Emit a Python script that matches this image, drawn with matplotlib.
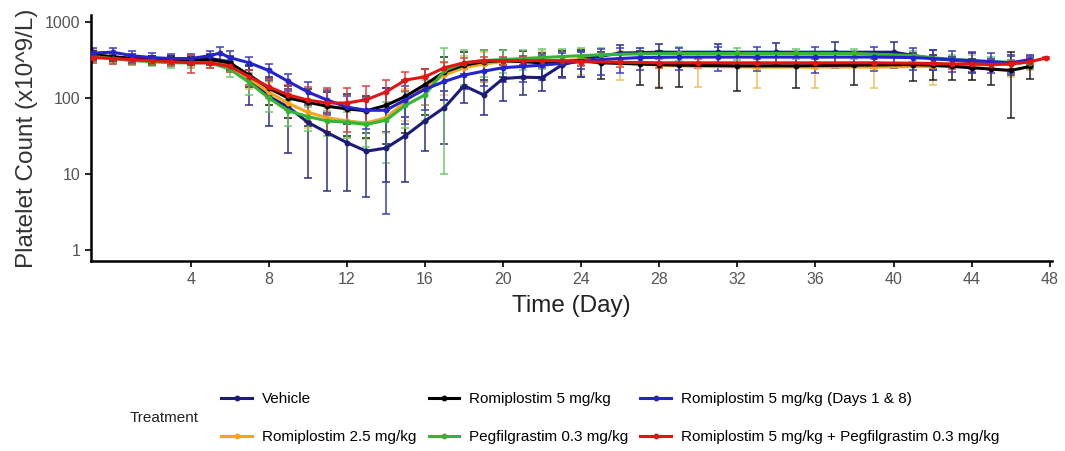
import numpy as np
import matplotlib
matplotlib.use('Agg')
import matplotlib.pyplot as plt

plt.rcParams['font.family'] = ['Liberation Sans', 'DejaVu Sans']

# group data: day, mean platelet count, SD (x10^9/L)
vehicle_days = [-1, 0, 1, 2, 3, 4, 5, 6, 7, 8, 9, 10, 11, 12, 13, 14, 15, 16, 17, 18, 19, 20, 21, 22, 23, 24, 26, 28, 31, 34, 37, 40, 42, 44, 46, 47]
vehicle_mean = [360, 345, 330, 320, 315, 320, 330, 300, 175, 105, 76, 48, 35, 26, 20, 22, 32, 50, 75, 145, 110, 180, 188, 185, 270, 320, 390, 400, 400, 400, 400, 400, 330, 300, 280, 300]
vehicle_sd = [60, 50, 50, 40, 40, 40, 50, 60, 95, 62, 57, 39, 29, 20, 15, 14, 24, 30, 50, 60, 50, 90, 80, 60, 80, 80, 100, 120, 120, 130, 150, 150, 100, 90, 80, 60]

rom5_days = [-1, 0, 1, 2, 3, 4, 5, 6, 7, 8, 9, 10, 11, 12, 13, 14, 15, 16, 17, 18, 19, 20, 21, 22, 23, 24, 25, 27, 28, 29, 32, 35, 38, 41, 42, 43, 44, 45, 46, 47]
rom5_mean = [370, 350, 330, 320, 320, 310, 320, 290, 200, 135, 100, 88, 78, 72, 68, 80, 105, 150, 220, 270, 300, 310, 300, 290, 300, 310, 290, 280, 275, 270, 265, 265, 270, 275, 270, 260, 250, 240, 230, 260]
rom5_sd = [50, 45, 40, 40, 40, 40, 45, 60, 60, 55, 45, 45, 42, 40, 38, 55, 70, 90, 125, 130, 130, 120, 110, 100, 110, 120, 110, 130, 140, 130, 140, 130, 120, 110, 100, 90, 80, 90, 175, 80]

days18_days = [-1, 0, 1, 2, 3, 4, 5, 5.5, 6, 7, 8, 9, 10, 11, 12, 13, 14, 15, 16, 17, 18, 19, 20, 21, 22, 23, 24, 25, 26, 27, 29, 31, 33, 36, 39, 41, 42, 43, 44, 45, 46, 47]
days18_mean = [390, 400, 360, 340, 330, 330, 360, 390, 340, 290, 230, 165, 120, 94, 76, 69, 69, 95, 130, 165, 200, 225, 250, 260, 270, 285, 300, 320, 330, 340, 345, 345, 345, 345, 345, 340, 330, 320, 310, 300, 290, 320]
days18_sd = [60, 60, 60, 50, 50, 50, 60, 80, 70, 60, 50, 40, 40, 35, 30, 30, 66, 50, 60, 70, 70, 80, 90, 100, 100, 100, 110, 120, 120, 110, 110, 120, 120, 130, 120, 110, 100, 100, 90, 90, 80, 50]

rom25_days = [-1, 0, 1, 2, 3, 4, 5, 6, 7, 8, 9, 10, 11, 12, 13, 14, 15, 16, 17, 18, 19, 20, 21, 22, 23, 24, 26, 28, 30, 33, 36, 39, 42, 44, 46, 47]
rom25_mean = [380, 340, 320, 310, 300, 300, 300, 270, 180, 120, 85, 65, 55, 50, 47, 55, 90, 140, 200, 250, 280, 300, 300, 300, 310, 320, 290, 270, 260, 255, 255, 255, 260, 270, 280, 300]
rom25_sd = [60, 50, 50, 40, 40, 40, 50, 50, 50, 40, 30, 25, 20, 20, 18, 20, 40, 60, 90, 110, 120, 130, 120, 110, 120, 120, 120, 130, 120, 120, 120, 120, 110, 100, 90, 70]

peg_days = [-1, 0, 1, 2, 3, 4, 5, 6, 7, 8, 9, 10, 11, 12, 13, 14, 15, 16, 17, 18, 19, 20, 21, 22, 23, 24, 25, 27, 29, 32, 35, 38, 41, 43, 45, 47]
peg_mean = [350, 330, 310, 300, 290, 290, 290, 240, 160, 100, 68, 57, 50, 48, 45, 51, 80, 110, 230, 290, 310, 320, 330, 340, 350, 360, 370, 380, 385, 385, 385, 385, 360, 320, 300, 290]
peg_sd = [50, 50, 40, 40, 40, 40, 40, 50, 50, 35, 25, 20, 18, 18, 22, 37, 40, 60, 220, 140, 120, 110, 100, 100, 90, 90, 90, 80, 80, 70, 60, 60, 60, 50, 50, 40]

combo_days = [-1, 0, 1, 2, 3, 4, 5, 6, 7, 8, 9, 10, 11, 12, 13, 14, 15, 16, 17, 18, 19, 20, 21, 22, 23, 24, 26, 28, 30, 33, 36, 39, 42, 43, 44, 45, 46, 47, 47.8]
combo_mean = [340, 330, 320, 310, 300, 290, 290, 260, 190, 140, 110, 94, 86, 86, 95, 120, 172, 190, 250, 290, 310, 310, 310, 310, 310, 300, 295, 290, 290, 290, 290, 290, 285, 280, 280, 275, 280, 300, 335]
combo_sd = [50, 50, 40, 40, 40, 80, 40, 40, 40, 40, 40, 45, 50, 50, 50, 50, 50, 50, 50, 50, 40, 40, 40, 40, 40, 40, 40, 40, 40, 40, 40, 40, 40, 40, 40, 40, 40, 40, 10]

groups = [
    ('Vehicle', vehicle_days, vehicle_mean, vehicle_sd, '#1c1c78', '#2a2a80'),
    ('Romiplostim 2.5 mg/kg', rom25_days, rom25_mean, rom25_sd, '#f5a41c', '#e8c25c'),
    ('Romiplostim 5 mg/kg', rom5_days, rom5_mean, rom5_sd, '#000000', '#202020'),
    ('Pegfilgrastim 0.3 mg/kg', peg_days, peg_mean, peg_sd, '#35b535', '#6cc86c'),
    ('Romiplostim 5 mg/kg (Days 1 & 8)', days18_days, days18_mean, days18_sd, '#2424cc', '#3b3bc0'),
    ('Romiplostim 5 mg/kg + Pegfilgrastim 0.3 mg/kg', combo_days, combo_mean, combo_sd, '#e01616', '#d84040'),
]

fig = plt.figure(figsize=(10.65, 4.51), dpi=100)
ax = fig.add_axes([0.0855, 0.421, 0.902, 0.546])

handles = []
for name, d, m, s, col, ecol in groups:
    d = np.array(d, dtype=float)
    m = np.array(m, dtype=float)
    s = np.array(s, dtype=float)
    lower = np.minimum(s, m * 0.97)
    ax.errorbar(d, m, yerr=[lower, s], fmt='none', ecolor=ecol, elinewidth=1.2,
                capsize=2.8, capthick=1.2, alpha=0.9, zorder=2)
    h, = ax.plot(d, m, color=col, lw=2.2, marker='o', ms=3.2, zorder=3, label=name)
    handles.append(h)

ax.set_yscale('log')
ax.set_ylim(0.72, 1236)
ax.set_xlim(-1.1, 48.1)
ax.set_xticks(range(4, 49, 4))
ax.set_yticks([1, 10, 100, 1000])
ax.set_yticklabels(['1', '10', '100', '1000'])
ax.minorticks_off()
ax.tick_params(axis='both', colors='black', labelcolor='#555555', labelsize=11.5,
               length=4, width=1.2, direction='out')
for side in ['top', 'right']:
    ax.spines[side].set_visible(False)
for side in ['left', 'bottom']:
    ax.spines[side].set_linewidth(1.8)

ax.set_xlabel('Time (Day)', fontsize=17.5, color='#222222', labelpad=6)
ax.set_ylabel('Platelet Count (x10^9/L)', fontsize=17.5, color='#333333', labelpad=5)

fig.text(0.122, 0.073, 'Treatment', fontsize=11, color='#222222', va='center')
fig.legend(handles=handles, ncol=3, loc='center left', bbox_to_anchor=(0.195, 0.073),
           frameon=False, fontsize=11, handlelength=2.0, handletextpad=0.65,
           columnspacing=0.8, labelspacing=1.6, markerscale=1.0)

fig.savefig('out.png', dpi=100)
